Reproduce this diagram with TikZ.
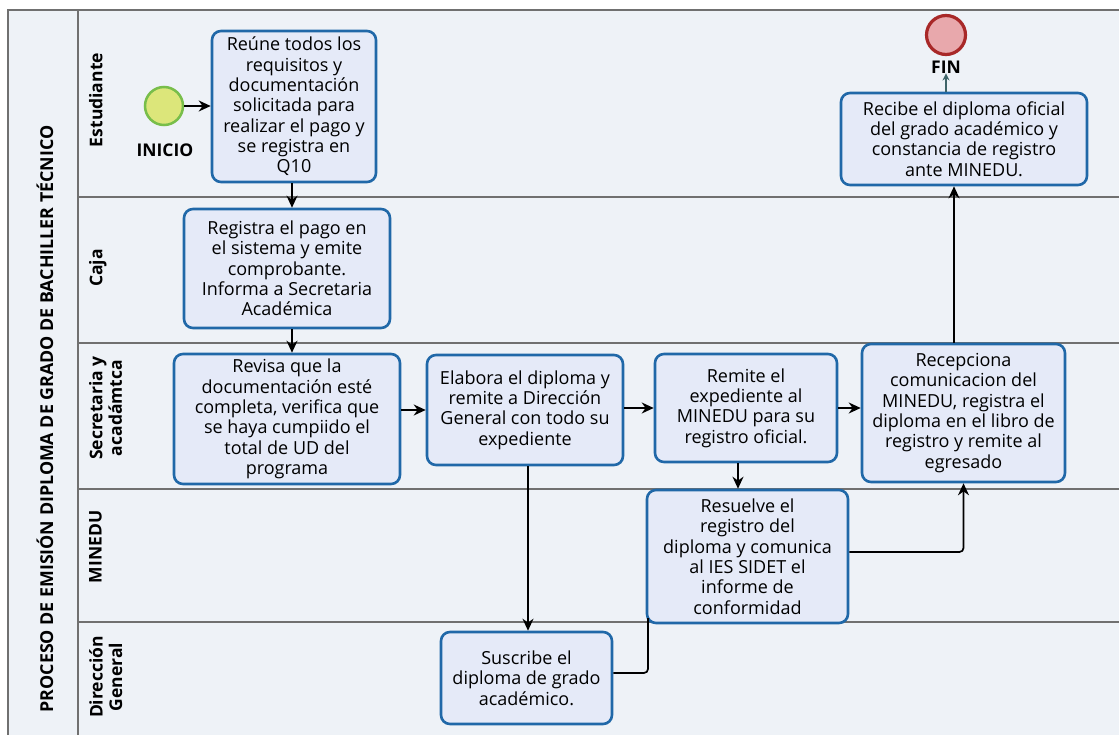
\documentclass[tikz,border=0pt]{standalone}
\usepackage{fontspec}
\setmainfont{Open Sans}
\usetikzlibrary{arrows.meta,calc}
\definecolor{boxblue}{HTML}{2068A8}
\definecolor{boxfill}{HTML}{E5EAF8}
\definecolor{bgcol}{HTML}{EEF2F7}
\definecolor{lanegray}{HTML}{707070}
\definecolor{startfill}{HTML}{DCE67A}
\definecolor{startdraw}{HTML}{78BE4A}
\definecolor{endfill}{HTML}{E8A8AC}
\definecolor{enddraw}{HTML}{A82828}
\definecolor{finarrow}{HTML}{3E6468}
\begin{document}
\begin{tikzpicture}[x=1pt,y=-1pt,
  task/.style={draw=boxblue, line width=2.6pt, fill=boxfill, rounded corners=9pt,
    align=center, inner sep=0pt, font=\fontsize{18}{20.3}\selectfont, text=black},
  flow/.style={draw=black, line width=1.7pt, -{Stealth[length=12pt,width=11pt]}},
  plainflow/.style={draw=black, line width=1.7pt},
  laneline/.style={draw=lanegray, line width=1.4pt},
  lanelabel/.style={rotate=90, anchor=north, font=\bfseries\fontsize{17.5}{19.5}\selectfont,
    align=center, inner sep=0pt},
  evlabel/.style={font=\bfseries\fontsize{17.5}{20}\selectfont, inner sep=0pt},
]
\useasboundingbox (0,0) rectangle (1119,735);
\fill[white] (0,0) rectangle (1119,735);
\fill[bgcol] (8,10) rectangle (1119,740);
\draw[laneline] (8,740) -- (8,10) -- (1119,10);
\draw[laneline] (78,10) -- (78,740);
\foreach \yy in {197,343,489,622} \draw[laneline] (78,\yy) -- (1119,\yy);

% pool and lane labels
\node[rotate=90, font=\bfseries\fontsize{17.8}{20}\selectfont, inner sep=0pt] (title) at (45,419)
  {PROCESO DE EMISIÓN DIPLOMA DE GRADO DE BACHILLER TÉCNICO};
\node[lanelabel] (l1) at (89,100) {Estudiante};
\node[lanelabel] (l2) at (89,268) {Caja};
\node[lanelabel] (l3) at (89,408) {Secretaria y\\acadámtca};
\node[lanelabel] (l4) at (89,547) {MINEDU};
\node[lanelabel] (l5) at (89,677) {Dirección\\General};

% events
\node[circle, draw=startdraw, fill=startfill, line width=2.5pt, minimum size=38pt, inner sep=0pt] (start) at (164,106) {};
\node[evlabel] (inicio) at (165,150) {INICIO};
\node[circle, draw=enddraw, fill=endfill, line width=3.2pt, minimum size=39pt, inner sep=0pt] (end) at (946,35) {};
\node[evlabel] (fin) at (946,67) {FIN};

% tasks
\node[task, minimum width=164pt, minimum height=151pt] (A) at (294,106.5)
  {Reúne todos los\\requisitos y\\documentación\\solicitada para\\realizar el pago y\\se registra en\\Q10};
\node[task, minimum width=206pt, minimum height=119pt] (B) at (287,268.5)
  {Registra el pago en\\el sistema y emite\\comprobante.\\Informa a Secretaria\\Académica};
\node[task, minimum width=226pt, minimum height=130pt] (C) at (287,419)
  {Revisa que la\\documentación esté\\completa, verifica que\\se haya cumpiido el\\total de UD del\\programa};
\node[task, minimum width=196pt, minimum height=110pt] (D) at (525,410)
  {Elabora el diploma y\\remite a Dirección\\General con todo su\\expediente};
\node[task, minimum width=182pt, minimum height=108pt] (E) at (746,408)
  {Remite el\\expediente al\\MINEDU para su\\registro oficial.};
\node[task, minimum width=203pt, minimum height=138pt] (F) at (963.5,413)
  {Recepciona\\comunicacion del\\MINEDU, registra el\\diploma en el libro de\\registro y remite al\\egresado};
\node[task, minimum width=201pt, minimum height=133pt] (G) at (747.5,556.5)
  {Resuelve el\\registro del\\diploma y comunica\\al IES SIDET el\\informe de\\conformidad};
\node[task, minimum width=171pt, minimum height=92pt] (H) at (526.5,678)
  {Suscribe el\\diploma de grado\\académico.};
\node[task, minimum width=246pt, minimum height=92pt] (I) at (964,139)
  {Recibe el diploma oficial\\del grado académico y\\constancia de registro\\ante MINEDU.};

% guide coordinates
\coordinate (xab) at (292,0);
\coordinate (xeg) at (738,0);
\coordinate (xdh) at (528,0);
\coordinate (xfi) at (954,0);
\coordinate (xhg) at (648,0);
\coordinate (yg) at (0,552);
\coordinate (yh) at (0,673);
\coordinate (ygb) at (0,618);

% connectors
\draw[flow] (start.east) -- (start.east -| A.west);
\draw[flow] (A.south -| xab) -- (B.north -| xab);
\draw[flow] (B.south -| xab) -- (C.north -| xab);
\draw[flow] (C.east |- D.west) -- (D.west);
\draw[flow] (D.east |- E.west) -- (E.west);
\draw[flow] (E.east) -- (E.east -| F.west);
\draw[flow] (E.south -| xeg) -- (G.north -| xeg);
\draw[flow] (D.south -| xdh) -- (H.north -| xdh);
\draw[flow, rounded corners=4pt] (G.east |- yg) -| (F.south);
\draw[plainflow, rounded corners=4pt] (H.east |- yh) -| (xhg |- ygb);
\draw[flow] (F.north -| xfi) -- (I.south -| xfi);
\draw[draw=finarrow, line width=1.2pt, -{Stealth[length=7pt,width=7pt]}] (I.north -| end) -- (fin.south);
\end{tikzpicture}
\end{document}
